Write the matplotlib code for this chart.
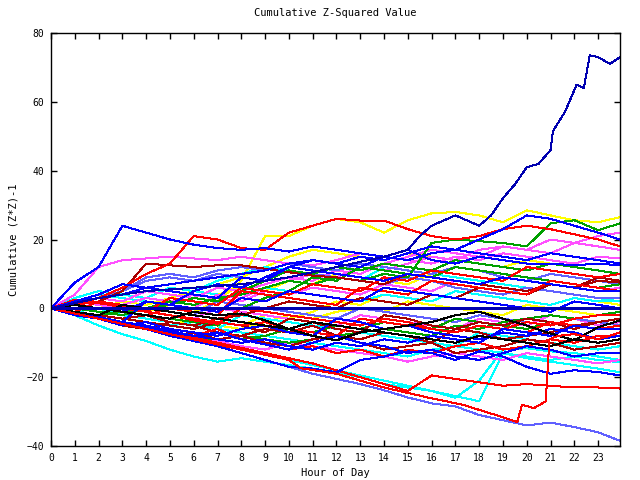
import matplotlib
matplotlib.use('Agg')
import matplotlib.pyplot as plt

# hourly sample points (last one is 23:55)
hours = list(range(24)) + [23.92]

# --- values, one list per trace, grouped by colour ---
red_paths = [
    [0, 1, 3, 6, 10, 13, 21, 20, 17.5, 17, 22, 24, 26, 25.5, 25.5, 23, 21, 20, 21, 23, 24, 23, 21.5, 20, 18],
    [0, -1.5, -3, -4.5, -6, -7, -8.5, -10, -11.5, -13, -14.5, -16, -18, -20, -22, -24, -19.5, -20.5, -21.5, -22.5, -22, -22.5, -23, -23, -23.3],
    [0, 1, 0, -1, -2, 0, -1, -2, 5, 4, 3, 2, 1, 6, 5, 4, 8, 7, 6, 5, 4, 8, 7, 6, 5],
    [0, -1, 2, 1, -1, -2, -3, -4, -5, -4, -6, -7, -8, -3, -4, -5, -6, -7, -5, -6, -4, -5, -3, -2, -2],
    [0, 1, 2, 0, -1, 3, 2, 1, 6, 5, 4, 7, 6, 5, 9, 8, 11, 10, 9, 8, 12, 11, 10, 9, 10],
    [0, -1.5, -3, -4, -5.5, -7, -8, -6, -9, -10.5, -12, -11, -13, -12, -14, -12, -13, -11, -10, -12, -11, -9, -10, -8, -8],
    [0, 2.5, 1.5, 0.5, -1, -2, -3.5, -4.5, 0, -1, -2, -3, -4, -5, -3, -4, -6, -7, -5, -6, -7, -4, -5, -6, -5],
]
darkred_paths = [
    [0, 1, 2, 5, 13, 12.5, 12, 12.5, 12.5, 11.5, 10.5, 9.5, 9, 8, 7, 10, 9, 8, 7, 6, 5, 7, 6, 8, 7.5],
    [0, -1.5, -3, -4.5, -6, -8, -7, -9, -8, -10, -11, -9, -8, -10, -12, -11, -10, -13, -12, -11, -9, -10, -12, -11, -10],
    [0, -1, -2, -3, -4, -5, -6, -4, -5, -7, -3, -4, -6, -7, -2, -3, -5, -6, -4, -5, -3, -4, -6, -4, -3],
    [0, -1, -2, -3, -2, -4, -5, -3, -2, 0, 2, 1, 0, 3, 2, 1, 4, 3, 6, 5, 4, 7, 6, 9, 8],
    [0, -2, -3, -5, -6, -4, -5, -7, -8, -6, -7, -5, -8, -9, -7, -8, -10, -6, -7, -9, -8, -7, -5, -4, -3],
]
blue_paths = [
    [0, 7.5, 12, 24, 22, 20, 18.5, 17.5, 17, 17.5, 16.5, 18, 17, 16, 15, 17, 14, 13, 15, 14, 13, 13, 12.5, 13, 12.5],
    [0, 2, 3, 4, 6, 7, 8, 9, 10, 11, 13, 14, 13, 15, 14, 16, 18, 17, 20, 23, 27, 26, 24, 22, 20],
    [0, -2, -3, -4, 2, 1, 0, -1, 3, 2, 5, 4, 3, 2, 6, 5, 4, 3, 2, 1, 0, -1, 2, 1, 0],
    [0, -1.5, -3, -4.5, -6, -8, -9.5, -11, -13, -15, -17, -17.5, -18.6, -15, -14, -12.5, -13, -15, -12.5, -14, -17, -19, -18, -18.5, -19.5],
    [0, -1, -2.5, -4, -5, -6.5, -8, -7, -9, -10.5, -12, -10, -8, -10, -11, -13, -12, -14, -15, -13, -11, -12, -14, -13, -13],
    [0, -2, -3, -5, -4, -6, -7, -8, -6, -5, -7, -8, -3, -4, -6, -5, -7, -8, -9, -7, -8, -6, -7, -9, -8],
    [0, 2, 4, 7, 6, 5, 4, 3, 9, 8, 12, 11, 10, 9, 8, 10, 9, 8, 7, 9, 8, 7, 6, 5, 5],
    [0, 1, 0, -1, 2, 1, 5, 7, 6, 9, 12, 14, 13, 12, 15, 14, 16, 17, 16, 15, 14, 16, 15, 14, 13],
    [0, -2, -3, -4, -5.5, -7, -8, -9, -10, -9, -11, -12, -10, -11, -9, -10, -8, -9, -10, -6, -7, -8, -5, -6, -6],
]
slate_paths = [
    [0, -1.5, -3, -4.5, -6, -7.5, -9, -11, -13, -15, -17, -19, -20.5, -22, -23.8, -25.9, -27.6, -28.5, -31, -32.5, -34, -33.2, -34.5, -36, -38.5],
    [0, 1, 3, 5, 8, 9, 8, 10, 9, 8, 11, 10, 9, 8, 7, 9, 8, 6, 5, 4, 6, 5, 4, 3, 3],
    [0, -1, -2, 1, 0, -1, -2, 2, 1, 0, -1, -2, -3, 0, -1, -2, -3, -4, -2, -3, -4, -5, -3, -4, -5],
    [0, 1, 3, 5, 9, 10, 9, 11, 12, 11, 13, 12, 11, 13, 12, 11, 10, 12, 11, 9, 8, 10, 9, 8, 7],
]
cyan_paths = [
    [0, -2, -5, -7.5, -9.5, -12, -14, -15.5, -14.5, -15.5, -16.5, -17.5, -18.6, -20, -22, -23, -24, -26, -21, -12, -11.6, -12.5, -13, -14, -15],
    [0, -1.5, -3, -4.5, -6, -7.5, -9, -10.5, -12, -13.5, -15, -16.5, -18, -19.5, -21, -22.5, -24, -25.5, -27, -13, -14.5, -15.5, -16.5, -17.5, -18.6],
    [0, 2, 4, 3, 2, 1, 5, 4, 3, 6, 5, 4, 3, 2, 4, 3, 2, 5, 4, 3, 2, 1, 3, 2, 2],
    [0, 3, 5, 4, 3, 6, 5, 8, 10, 12, 11, 10, 9, 8, 12, 11, 10, 9, 8, 7, 6, 5, 4, 3, 2],
    [0, -1, -2, -3, -4, -5, -4, -6, -7, -8, -9, -10, -11, -12, -13, -14, -12, -11, -12, -13, -14, -15, -14, -15, -15.7],
    [0, -1, 0, -2, -3, -4, -5, -6, -2, -3, -4, -5, -6, -7, -8, -9, -10, -11, -7, -8, -9, -10, -11, -12, -11],
]
magenta_paths = [
    [0, 4, 12, 14, 14.5, 15, 14.5, 14, 15, 14, 13, 12.5, 14, 16, 15, 14, 13, 15, 14, 16, 15, 14, 13, 15, 14.5],
    [0, 1, 0, -1, 2, 1, 0, 4, 3, 6, 8, 10, 9, 12, 11, 13, 15, 14, 17, 18, 17, 20, 19, 21, 22],
    [0, 2, 1, 0, -1, -2, -3, 0, -1, -2, -3, -4, -5, -2, -3, -4, -5, -6, -3, -4, -5, -2, -3, -5, -4],
    [0, -1.5, -3, -4, -5.5, -7, -8, -9.5, -11, -12, -10, -11, -12, -13, -14, -15.5, -14, -13, -14, -15, -13, -14, -15, -16, -15],
    [0, 1, 2, 1, 3, 2, 4, 3, 2, 5, 4, 6, 5, 4, 7, 6, 5, 8, 7, 6, 5, 7, 6, 5, 6],
    [0, 2, 3, 2, 5, 4, 3, 6, 5, 7, 9, 8, 11, 10, 13, 15, 17, 16, 15, 18, 17, 16, 19, 18, 17],
]
green_paths = [
    [0, -1, -2, -1, 0, 2, 1, 3, 4, 6, 8, 7, 9, 8, 10, 9, 19, 20, 19.5, 19, 18, 24.7, 25.6, 22.7, 24.7],
    [0, -1, -2, -3, -2, -3, -4, -5, 0, 3, 5, 9, 8, 12, 11, 10, 9, 12, 11, 10, 9, 8, 7, 6, 7],
    [0, -1.5, -3, -4.5, -6, -7, -8, -7, -9, -8, -6, -7, -5, -6, -4, -5, -6, -3, -4, -5, -6, -4, -5, -6, -5],
    [0, -1.5, -3, -4.5, -6, -7, -8.5, -9, -8, -9, -10, -9, -8, -7, -6, -7, -8, -5, -6, -4, -3, -2, -3, -2, -1],
    [0, 0, -1, -2, 0, 1, 3, 2, 5, 8, 11, 10, 12, 11, 13, 12, 11, 14, 13, 12, 11, 13, 12, 11, 10],
]
yellow_paths = [
    [0, -1, -2, -1, -2, -3, -1, 2, 8, 21, 21, 24, 26, 25, 22, 25.6, 27.6, 28, 27, 25, 28.5, 27, 25.6, 25, 26.5],
    [0, 1, 2, 0, -1, 1, 0, 4, 6, 5, 8, 7, 10, 9, 8, 7, 10, 9, 8, 7, 6, 5, 4, 3, 3],
    [0, -1, -2, -3, -4, -5, -3, -4, -5, -2, -3, -1, 2, 1, 4, 3, 2, 5, 4, 3, 2, 1, 3, 2, 1],
    [0, 1, 0, 2, 1, 3, 5, 7, 9, 12, 15, 17, 16, 15, 14, 16, 15, 14, 13, 12, 14, 13, 12, 11, 10],
    [0, -1, -2, -3, -2, -3, -4, -5, -6, -4, -2, -3, -1, 0, -1, 2, 1, 0, -1, -2, 1, 0, -1, -2, -1],
]
black_paths = [
    [0, 1, 0, -1, -2, -3, -1, -2, -1.5, -3.5, -6, -8, -9.3, -7, -6, -5, -4, -2, -1, -3, -5, -7.3, -9.3, -5.5, -3.5],
    [0, -1, -2, 1, 0, -1, -2, -3, -4, -5, -6, -4, -5, -6, -7, -8, -9, -10, -8, -9, -10, -11, -9, -10, -9],
]

# traces with sharp jumps, sampled at their own times
riser_hours = [0, 2, 4, 6, 8, 10, 12, 14, 15, 15.5, 16, 17, 18, 18.5, 19, 19.5, 20, 20.5, 21, 21.1, 21.6, 22.1, 22.4, 22.65, 23, 23.5, 23.92]
riser_vals = [0, 3, 5, 6, 7, 9, 12, 15, 17, 21, 24, 27, 24, 27, 32, 36, 41, 42, 46, 51.5, 57, 65, 64, 73.5, 73, 71, 73]
drop_hours = [0, 2, 4, 6, 8, 10, 10.5, 12, 14, 15.9, 17.3, 18.7, 19.6, 19.8, 20.3, 20.8, 20.95, 21.3, 22, 23, 23.92]
drop_vals = [0, -3, -6, -9, -12, -15, -17.4, -19, -23, -26, -28, -31, -33, -28, -29, -27, -9, -8, -7.5, -9, -7]

colors = {
    'red': '#ff0000', 'darkred': '#a80000', 'blue': '#0000ff', 'slate': '#6060ff',
    'cyan': '#00ffff', 'magenta': '#ff50ff', 'green': '#00a000', 'yellow': '#ffff00',
    'black': '#000000', 'navy': '#0000b0',
}

plt.rcParams['font.family'] = 'DejaVu Sans Mono'
fig = plt.figure(figsize=(6.4, 4.8), dpi=100)
ax = fig.add_axes([51 / 640, 34 / 480, 569 / 640, 413 / 480])

groups = [
    ('yellow', yellow_paths), ('cyan', cyan_paths), ('magenta', magenta_paths),
    ('slate', slate_paths), ('green', green_paths), ('darkred', darkred_paths),
    ('red', red_paths), ('blue', blue_paths), ('black', black_paths),
]
lw = 0.72  # one pixel at 100 dpi
for name, paths in groups:
    for vals in paths:
        ax.plot(hours, vals, color=colors[name], lw=lw, antialiased=False)

ax.plot(drop_hours, drop_vals, color=colors['red'], lw=lw, antialiased=False)
ax.plot(riser_hours, riser_vals, color=colors['navy'], lw=lw, antialiased=False)
ax.axhline(0, color=colors['navy'], lw=1.0, antialiased=False)

ax.set_xlim(0, 23.92)
ax.set_ylim(-40, 80)
ax.set_xticks(range(24))
ax.set_yticks(range(-40, 81, 20))
ax.tick_params(direction='in', length=4, width=1, top=True, right=True, labelsize=7, pad=5)
for s in ax.spines.values():
    s.set_linewidth(1)

ax.set_title('Cumulative Z-Squared Value', fontsize=7.5, pad=12)
ax.set_xlabel('Hour of Day', fontsize=7.5, labelpad=4)
ax.set_ylabel('Cumulative (Z*Z)-1', fontsize=7.5, labelpad=6)

fig.savefig('out.png', dpi=100)
